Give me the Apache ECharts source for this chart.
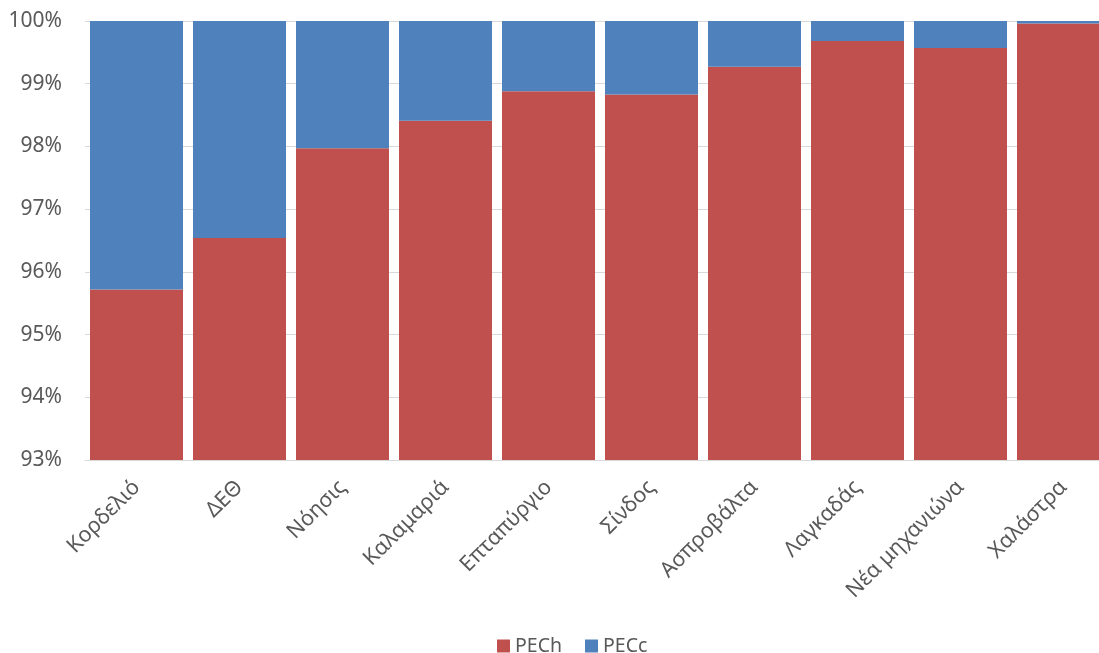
<!DOCTYPE html>
<html>
<head>
<meta charset="utf-8">
<script src="https://cdn.jsdelivr.net/npm/echarts@6/dist/echarts.min.js"></script>
<style>
html,body{margin:0;padding:0;background:#fff;}
#chart{width:1099px;height:653px;}
</style>
</head>
<body>
<div id="chart"></div>
<script>
// Stations along the x axis
const categories = ['Κορδελιό', 'ΔΕΘ', 'Νόησις', 'Καλαμαριά', 'Επταπύργιο', 'Σίνδος', 'Ασπροβάλτα', 'Λαγκαδάς', 'Νέα μηχανιώνα', 'Χαλάστρα'];
// Share of PECh (%) per station
const pechShare = [95.72, 96.54, 97.97, 98.41, 98.88, 98.83, 99.27, 99.68, 99.57, 99.96];
// Share of PECc (%) per station: the remainder of each 100% column
const peccShare = [4.28, 3.46, 2.03, 1.59, 1.12, 1.17, 0.73, 0.32, 0.43, 0.04];
// Value axis range (%)
const yMin = 93, yMax = 100, yStep = 1;

const font = 'Noto Sans, Open Sans, sans-serif';
const chart = echarts.init(document.getElementById('chart'), null, {renderer: 'canvas'});
chart.setOption({
  animation: false,
  textStyle: {fontFamily: font},
  // plot runs past the right edge of the canvas, so the last column is cut off
  grid: {left: 85, width: 1030, top: 21, height: 439, containLabel: false, outerBoundsMode: 'none'},
  legend: {
    data: ['PECh', 'PECc'],
    top: 631,
    left: 492,
    itemWidth: 13,
    itemHeight: 13,
    itemGap: 23,
    icon: 'rect',
    textStyle: {fontSize: 19.5, color: '#595959', fontFamily: font}
  },
  xAxis: {
    type: 'category',
    data: categories,
    axisLine: {show: true, lineStyle: {color: '#D9D9D9', width: 1}},
    axisTick: {show: false},
    axisLabel: {rotate: 45, fontSize: 21.5, color: '#595959', margin: 24, interval: 0, fontFamily: font}
  },
  yAxis: {
    type: 'value',
    min: yMin,
    max: yMax,
    interval: yStep,
    axisLine: {show: false},
    axisTick: {show: false},
    splitLine: {lineStyle: {color: '#D9D9D9', width: 1}},
    axisLabel: {formatter: '{value}%', fontSize: 21, color: '#595959', margin: 23, fontFamily: font}
  },
  series: [
    {
      name: 'PECh',
      type: 'bar',
      stack: 'total',
      data: pechShare,
      barWidth: 93,
      itemStyle: {color: '#C0504D'}
    },
    {
      name: 'PECc',
      type: 'bar',
      stack: 'total',
      data: peccShare,
      barWidth: 93,
      itemStyle: {color: '#4F81BD'}
    }
  ]
});
</script>
</body>
</html>
